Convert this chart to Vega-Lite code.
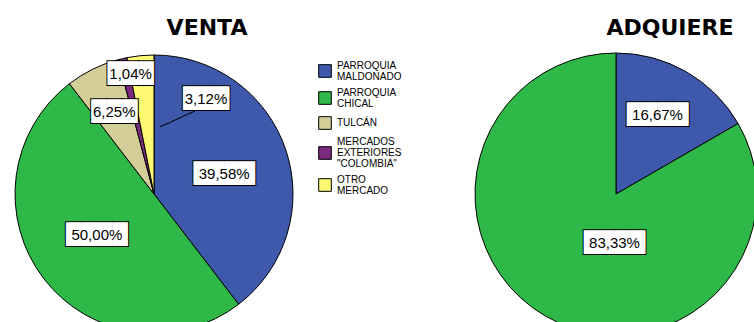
{
  "$schema": "https://vega.github.io/schema/vega-lite/v6.json",
  "padding": {"left": 0, "top": 17, "right": 0, "bottom": 0},
  "background": "white",
  "bounds": "flush",
  "config": {
    "view": {"stroke": null},
    "font": "Liberation Sans",
    "title": {"fontSize": 22, "fontWeight": "bold", "font": "DejaVu Sans", "color": "black"}
  },
  "data": {
    "values": [
      {"chart": "VENTA", "cat": "PARROQUIA MALDONADO", "ord": 1, "pct": 39.58, "label": "39,58%"},
      {"chart": "VENTA", "cat": "PARROQUIA CHICAL", "ord": 2, "pct": 50.00, "label": "50,00%"},
      {"chart": "VENTA", "cat": "TULCÁN", "ord": 3, "pct": 6.25, "label": "6,25%"},
      {"chart": "VENTA", "cat": "MERCADOS EXTERIORES \"COLOMBIA\"", "ord": 4, "pct": 1.04, "label": "1,04%"},
      {"chart": "VENTA", "cat": "OTRO MERCADO", "ord": 5, "pct": 3.12, "label": "3,12%"},
      {"chart": "ADQUIERE", "cat": "PARROQUIA MALDONADO", "ord": 1, "pct": 16.67, "label": "16,67%"},
      {"chart": "ADQUIERE", "cat": "PARROQUIA CHICAL", "ord": 2, "pct": 83.33, "label": "83,33%"}
    ]
  },
  "spacing": 154,
  "resolve": {"legend": {"color": "independent"}},
  "hconcat": [
    {
      "title": {"text": "VENTA", "dx": 53, "offset": 13},
      "width": 308,
      "height": 280,
      "transform": [{"filter": "datum.chart == 'VENTA'"}],
      "encoding": {
        "theta": {"field": "pct", "type": "quantitative", "stack": true},
        "order": {"field": "ord", "type": "quantitative"}
      },
      "layer": [
        {
          "mark": {"type": "arc", "radius": 139, "stroke": "black", "strokeWidth": 1},
          "encoding": {
            "color": {
              "field": "cat", "type": "nominal",
              "scale": {
                "domain": ["PARROQUIA MALDONADO", "PARROQUIA CHICAL", "TULCÁN", "MERCADOS EXTERIORES \"COLOMBIA\"", "OTRO MERCADO"],
                "range": ["#3E58AC", "#2EB848", "#D3CE97", "#7C287D", "#FBF873"]
              },
              "legend": {
                "title": null,
                "orient": "none",
                "legendX": 318,
                "legendY": 10,
                "padding": 0,
                "symbolType": "square",
                "symbolSize": 160,
                "symbolStrokeColor": "black",
                "symbolStrokeWidth": 1,
                "labelFont": "Liberation Sans",
                "labelFontSize": 10,
                "labelColor": "black",
                "labelOffset": 5,
                "rowPadding": 5,
                "labelExpr": "split(datum.label, ' ')",
                "encode": {"labels": {"update": {"lineHeight": {"value": 11}, "dy": {"signal": "-(length(split(datum.label, ' '))-1)*5.5"}}}}
              }
            }
          }
        },
        {
          "transform": [{"filter": "datum.label == '3,12%'"}],
          "mark": {
            "type": "text", "font": "DejaVu Sans Mono", "fontSize": 10.5, "fill": "black",
            "align": "left", "baseline": "middle", "angle": -24.6, "radius": 67
          },
          "encoding": {"text": {"value": "──────"}}
        },
        {
          "mark": {
            "type": "text", "font": "DejaVu Sans", "fontSize": 20, "fill": "black", "stroke": "black", "strokeWidth": 2,
            "align": "center", "baseline": "middle",
            "radius": {"expr": "datum.label == '1,04%' ? 121 : datum.label == '6,25%' ? 90 : 72"},
            "dx": {"expr": "datum.label == '3,12%' ? 59 : datum.label == '39,58%' ? 2 : datum.label == '1,04%' ? 4 : 0"},
            "dy": {"expr": "datum.label == '3,12%' ? -23 : datum.label == '39,58%' ? 3 : datum.label == '50,00%' ? -3 : datum.label == '1,04%' ? -2 : -1"}
          },
          "encoding": {
            "text": {"condition": {"test": "length(datum.label) > 5", "value": "████"}, "value": "███"}
          }
        },
        {
          "mark": {
            "type": "text", "font": "DejaVu Sans", "fontSize": 20, "fill": "white",
            "align": "center", "baseline": "middle",
            "radius": {"expr": "datum.label == '1,04%' ? 121 : datum.label == '6,25%' ? 90 : 72"},
            "dx": {"expr": "datum.label == '3,12%' ? 59 : datum.label == '39,58%' ? 2 : datum.label == '1,04%' ? 4 : 0"},
            "dy": {"expr": "datum.label == '3,12%' ? -23 : datum.label == '39,58%' ? 3 : datum.label == '50,00%' ? -3 : datum.label == '1,04%' ? -2 : -1"}
          },
          "encoding": {
            "text": {"condition": {"test": "length(datum.label) > 5", "value": "████"}, "value": "███"}
          }
        },
        {
          "mark": {
            "type": "text", "font": "Liberation Sans", "fontSize": 15, "fill": "black",
            "align": "center", "baseline": "middle",
            "radius": {"expr": "datum.label == '1,04%' ? 121 : datum.label == '6,25%' ? 90 : 72"},
            "dx": {"expr": "datum.label == '3,12%' ? 59 : datum.label == '39,58%' ? 2 : datum.label == '1,04%' ? 4 : 0"},
            "dy": {"expr": "datum.label == '3,12%' ? -23 : datum.label == '39,58%' ? 3 : datum.label == '50,00%' ? -3 : datum.label == '1,04%' ? -2 : -1"}
          },
          "encoding": {"text": {"field": "label"}}
        }
      ]
    },
    {
      "title": {"text": "ADQUIERE", "dx": 54, "offset": 11},
      "width": 308,
      "height": 280,
      "transform": [{"filter": "datum.chart == 'ADQUIERE'"}],
      "encoding": {
        "theta": {"field": "pct", "type": "quantitative", "stack": true},
        "order": {"field": "ord", "type": "quantitative"}
      },
      "layer": [
        {
          "mark": {"type": "arc", "radius": 141, "stroke": "black", "strokeWidth": 1},
          "encoding": {
            "color": {"field": "cat", "type": "nominal", "legend": null}
          }
        },
        {
          "mark": {
            "type": "text", "font": "DejaVu Sans", "fontSize": 20, "fill": "black", "stroke": "black", "strokeWidth": 2,
            "align": "center", "baseline": "middle",
            "radius": {"expr": "datum.label == '16,67%' ? 87 : 51"},
            "dx": {"expr": "datum.label == '16,67%' ? -2 : 24"},
            "dy": {"expr": "datum.label == '16,67%' ? -4 : 5"}
          },
          "encoding": {"text": {"value": "████"}}
        },
        {
          "mark": {
            "type": "text", "font": "DejaVu Sans", "fontSize": 20, "fill": "white",
            "align": "center", "baseline": "middle",
            "radius": {"expr": "datum.label == '16,67%' ? 87 : 51"},
            "dx": {"expr": "datum.label == '16,67%' ? -2 : 24"},
            "dy": {"expr": "datum.label == '16,67%' ? -4 : 5"}
          },
          "encoding": {"text": {"value": "████"}}
        },
        {
          "mark": {
            "type": "text", "font": "Liberation Sans", "fontSize": 15, "fill": "black",
            "align": "center", "baseline": "middle",
            "radius": {"expr": "datum.label == '16,67%' ? 87 : 51"},
            "dx": {"expr": "datum.label == '16,67%' ? -2 : 24"},
            "dy": {"expr": "datum.label == '16,67%' ? -4 : 5"}
          },
          "encoding": {"text": {"field": "label"}}
        }
      ]
    }
  ]
}
